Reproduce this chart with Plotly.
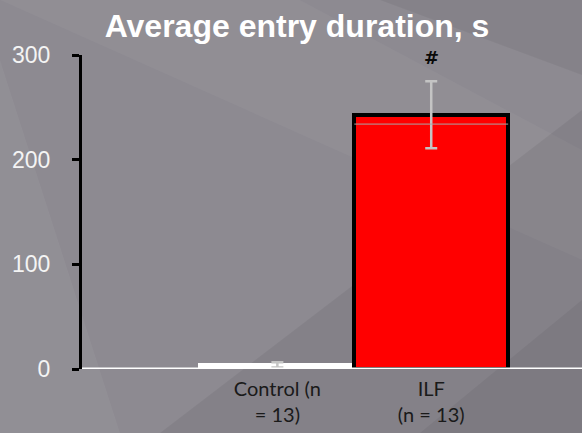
import plotly.graph_objects as go

# Group data
categories = ["Control (n<br>= 13)", "ILF<br>(n = 13)"]
means = [4, 243]
errors = [2.5, 32]
bar_fills = ["#ffffff", "#ff0000"]
bar_edges = ["#ffffff", "#000000"]
sig_marks = ["", "#"]
y_ticks = [0, 100, 200, 300]

x_pos = list(range(len(categories)))

W, H = 582, 433
ML, MR, MT, MB = 82, 0, 55, 64
PW, PH = W - ML - MR, H - MT - MB


def to_paper(px, py):
    """Convert page pixels to paper coordinates of the plot area."""
    return (px - ML) / PW, (H - MB - py) / PH


def poly(points):
    pts = [to_paper(x, y) for x, y in points]
    return "M" + " L".join(f"{x:.4f},{y:.4f}" for x, y in pts) + " Z"


fig = go.Figure()

# soft diagonal shading of the slide background
bands = [
    ([(0, 60), (0, 433), (120, 433)], "rgba(255,255,255,0.045)"),
    ([(0, 0), (300, 0), (582, 150), (582, 260)], "rgba(255,255,255,0.035)"),
    ([(582, 110), (582, 433), (160, 433)], "rgba(0,0,0,0.06)"),
    ([(380, 0), (582, 0), (582, 75)], "rgba(0,0,0,0.05)"),
    ([(582, 300), (582, 433), (420, 433)], "rgba(0,0,0,0.05)"),
]
for pts, col in bands:
    fig.add_shape(type="path", xref="paper", yref="paper", path=poly(pts),
                  fillcolor=col, line=dict(width=0), layer="below")

for i in x_pos:
    fig.add_trace(go.Bar(
        x=[x_pos[i]], y=[means[i]], width=1.0,
        marker=dict(color=bar_fills[i], line=dict(color=bar_edges[i], width=4)),
        error_y=dict(type="data", array=[errors[i]], visible=True,
                     color="#c4c4c4", thickness=2.5, width=6),
        showlegend=False, hoverinfo="skip",
    ))

# significance marks above the error bars
for i in x_pos:
    if sig_marks[i]:
        fig.add_annotation(x=x_pos[i], y=means[i] + errors[i] + 23,
                           text="<b>" + sig_marks[i] + "</b>", showarrow=False,
                           font=dict(family="DejaVu Sans", size=18, color="#0a0a0a"),
                           yanchor="middle")

# thin light line across the taller bar
fig.add_shape(type="line", xref="x", yref="y", x0=0.5, x1=1.5,
              y0=means[1] - 9, y1=means[1] - 9,
              line=dict(color="#a8a8a8", width=1))

fig.update_layout(
    width=W, height=H,
    paper_bgcolor="#8d8a91", plot_bgcolor="rgba(0,0,0,0)",
    margin=dict(l=ML, r=MR, t=MT, b=MB),
    bargap=0,
    title=dict(text="<b>Average entry duration, s</b>", x=297 / W, xanchor="center",
               y=1 - 26 / H, yanchor="middle",
               font=dict(family="Liberation Sans", size=32, color="#ffffff")),
    xaxis=dict(
        range=[-1.27, 1.98], tickmode="array", tickvals=x_pos, ticktext=categories,
        showgrid=False, zeroline=False, showline=False, ticks="",
        ticklabelstandoff=6,
        tickfont=dict(family="Lato", size=20, color="#1a1a1a"),
    ),
    yaxis=dict(
        range=[0, 300], tickvals=y_ticks, showgrid=False, zeroline=False,
        showline=True, linecolor="#000000", linewidth=3,
        ticks="outside", ticklen=7, tickwidth=3, tickcolor="#000000",
        ticklabelstandoff=17,
        tickfont=dict(family="Liberation Sans", size=23, color="#f4f4f4"),
    ),
)

# white baseline along the category axis
fig.add_shape(type="line", xref="paper", yref="y", x0=0, x1=1, y0=0, y1=0,
              line=dict(color="#ffffff", width=3))

fig.write_html("out.html")
